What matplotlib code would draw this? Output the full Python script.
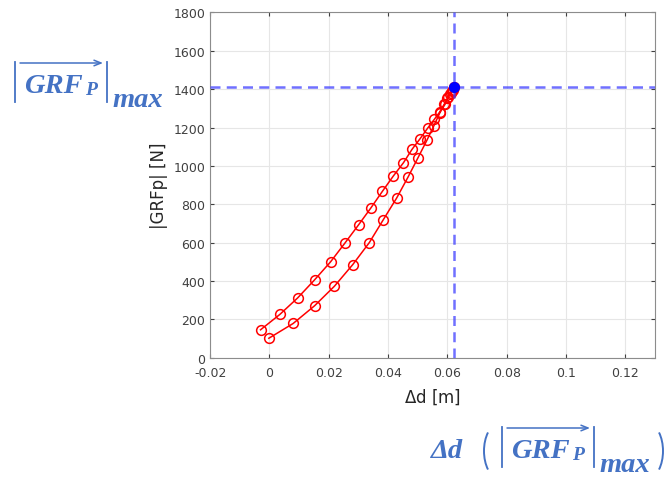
import matplotlib
matplotlib.use("Agg")
import matplotlib.pyplot as plt
from matplotlib.lines import Line2D
from matplotlib.patches import Arc

# loading branch (lower/right curve), from start up to the peak
d_load = [-0.0002, 0.0080, 0.0152, 0.0219, 0.0281, 0.0337, 0.0384, 0.0429, 0.0468,
          0.0501, 0.0531, 0.0554, 0.0575, 0.0592, 0.0603, 0.0611, 0.0618]
f_load = [102, 179, 271, 373, 486, 601, 720, 833, 944,
          1043, 1134, 1208, 1278, 1321, 1358, 1378, 1398]
# unloading branch (upper/left curve), from the peak back down
d_unload = [0.0615, 0.0608, 0.0600, 0.0589, 0.0574, 0.0556, 0.0533, 0.0508, 0.0481,
            0.0452, 0.0417, 0.0381, 0.0342, 0.0301, 0.0254, 0.0206, 0.0152, 0.0095,
            0.0035, -0.0030]
f_unload = [1392, 1377, 1352, 1321, 1281, 1243, 1196, 1142, 1087,
            1017, 946, 868, 781, 694, 597, 500, 406, 312, 226, 146]
# max point
d_max = 0.0621
f_max = 1411

W, H = 667, 481
fig = plt.figure(figsize=(W / 100, H / 100), dpi=100)
ax = fig.add_axes([0.315, 0.254, 0.667, 0.718])

ax.plot(d_load + [d_max] + d_unload, f_load + [f_max] + f_unload, '-o', color='red',
        lw=1.1, markersize=7, markerfacecolor='none', markeredgewidth=1.1, zorder=3)
dash_col = (0.25, 0.25, 1.0, 0.75)
ax.axvline(d_max, color=dash_col, ls=(0, (4, 2.5)), lw=1.8, zorder=4)
ax.axhline(f_max, color=dash_col, ls=(0, (4, 2.5)), lw=1.8, zorder=4)
ax.plot([d_max], [f_max], 'o', color='blue', markersize=7, zorder=5)

ax.set_xlim(-0.02, 0.13)
ax.set_ylim(0, 1800)
ax.set_xticks([-0.02, 0, 0.02, 0.04, 0.06, 0.08, 0.1, 0.12])
ax.set_xticklabels(['-0.02', '0', '0.02', '0.04', '0.06', '0.08', '0.1', '0.12'])
ax.set_yticks(range(0, 1801, 200))
ax.grid(True, color='#e6e6e6', lw=0.8)
ax.set_axisbelow(True)
for s in ax.spines.values():
    s.set_color('#8c8c8c')
ax.tick_params(colors='#404040', labelsize=9, direction='in', length=3)
ax.tick_params(axis='x', pad=6)
ax.tick_params(top=True, right=True)
ax.set_xlabel(r'$\Delta$d [m]', fontsize=12, color='#262626', labelpad=5)
ax.set_ylabel('|GRFp| [N]', fontsize=12, color='#262626', labelpad=4)

# blue formula labels, placed piece by piece in pixel coordinates
blue = '#4472C4'
font = dict(family='Liberation Serif', weight='bold', style='italic', color=blue)


def px(x, y):
    return x / W, 1 - y / H


def put(x, y, s, size, **kw):
    fig.text(*px(x, y), s, fontsize=size, ha='left', va='baseline', **{**font, **kw})


def bar(x, y0, y1):
    fig.add_artist(Line2D([x / W, x / W], [1 - y0 / H, 1 - y1 / H], color=blue,
                          lw=1.3, transform=fig.transFigure))


def arrow(x0, x1, y):
    fig.add_artist(plt.Annotation('', xy=px(x1, y), xytext=px(x0, y),
                                  xycoords='figure fraction', textcoords='figure fraction',
                                  arrowprops=dict(arrowstyle='->,head_length=0.5,head_width=0.2',
                                                  color=blue, lw=1.1, shrinkA=0, shrinkB=0)))


def paren(xc, yc, a, b, t1, t2):
    fig.add_artist(Arc(px(xc, yc), 2 * a / W, 2 * b / H, theta1=t1, theta2=t2,
                       color=blue, lw=1.4, transform=fig.transFigure))


def grf_max(x0, y_base):
    # |GRF_P|max with the vector arrow on top
    bar(x0, y_base - 30, y_base + 10)
    arrow(x0 + 5, x0 + 88, y_base - 29)
    put(x0 + 9, y_base, 'GRF', 20.5)
    put(x0 + 70, y_base + 2, 'P', 14)
    bar(x0 + 92, y_base - 30, y_base + 10)
    put(x0 + 97, y_base + 14, 'max', 20.5)


grf_max(15, 93)

put(431, 458, 'Δd', 20.5)
paren(500, 452, 16, 28, 115, 245)
grf_max(502, 458)
paren(647, 452, 16, 28, -65, 65)

fig.savefig('out.png', dpi=100)
